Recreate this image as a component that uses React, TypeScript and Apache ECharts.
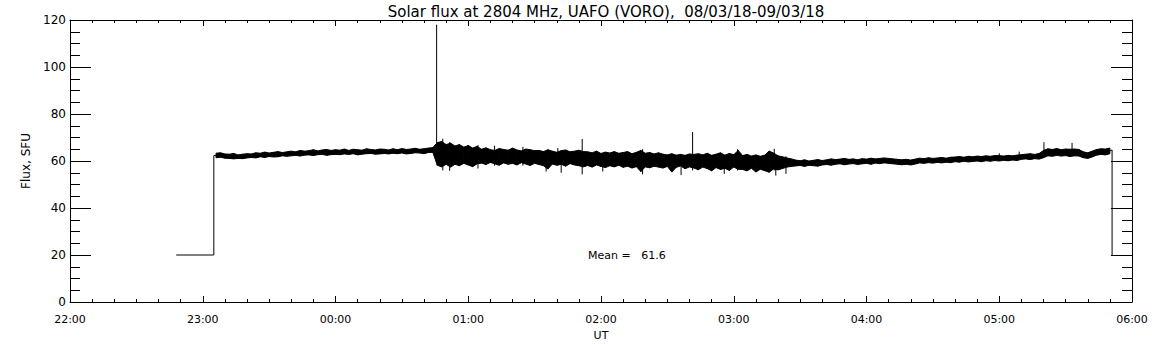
import React, { useEffect, useRef } from "react";
import * as echarts from "echarts";

// Time axis in minutes after 22:00 UT
const AXIS_START_HOUR = 22;
const X_MIN = 0;
const X_MAX = 480;
const Y_MIN = 0;
const Y_MAX = 120;

const TITLE = "Solar flux at 2804 MHz, UAFO (VORO),  08/03/18-09/03/18";
const Y_NAME = "Flux, SFU";
const X_NAME = "UT";
const MEAN_TEXT = "Mean =   61.6";

// Lead-in: calibration level, then step up
const leadTimes = [48, 65, 65, 66];
const leadValues = [20, 20, 62.3, 62.3];

// Dense signal envelope, 2-minute bins (upper / lower extent per bin)
const seg1Start = 66;
const seg1Hi = [
  63.3, 63.5, 63.0, 62.9, 63.2, 62.6, 62.9, 63.1,
  63.0, 63.5, 63.3, 63.8, 63.4, 63.7, 64.0, 63.6, 63.9, 64.2,
  63.9, 64.5, 64.2, 64.4, 64.8, 64.3, 64.7, 64.9, 64.5, 64.8,
  64.6, 65.1, 64.5, 65.0, 64.8, 64.6, 65.2, 64.9, 64.7, 65.1,
  65.0, 64.7, 65.2, 64.8, 65.3, 64.9, 65.1, 65.4, 65.0, 65.2, 65.5, 65.7,
];
const seg1Lo = [
  61.4, 61.6, 61.2, 61.1, 60.9, 61.1, 61.0, 61.3,
  61.5, 61.3, 61.8, 61.5, 61.9, 61.7, 61.8, 62.2, 62.0, 62.2,
  62.4, 62.1, 62.5, 62.6, 62.3, 62.7, 62.8, 62.4, 62.7, 62.8,
  62.7, 63.0, 62.8, 63.1, 62.6, 62.9, 63.1, 63.2, 62.9, 63.0,
  63.2, 63.0, 63.3, 63.1, 63.4, 63.0, 63.2, 63.5, 63.4, 63.1, 63.6, 63.7,
];

const seg2Start = 166;
const seg2Hi = [
  67.8, 68.3, 67.0, 67.6,
  66.4, 67.0, 65.9, 66.6, 65.5, 66.2,
  65.0, 65.6, 64.8, 64.5, 65.3, 64.9, 64.6, 65.5, 64.7, 64.3, 65.1, 64.8, 64.4,
  64.5, 64.0, 64.8, 64.2, 63.7, 64.4, 64.7, 63.9, 64.2, 64.6,
  64.0,
  63.9, 63.5, 64.2, 63.2, 63.8, 63.4, 64.0, 63.3, 63.6, 64.0, 63.1, 63.7, 64.5, 63.3, 63.6, 63.0, 63.5,
  62.9, 62.6, 63.1, 62.5, 62.8, 62.4, 63.0,
  62.8,
  63.1, 62.6, 63.3, 62.4, 62.9, 63.5, 62.5, 63.2, 62.7, 64.5,
  62.3, 62.8, 62.1, 62.6, 62.0, 62.5, 64.2, 63.4, 62.2, 61.8, 61.3, 60.9,
];
const seg2Lo = [
  58.2, 57.5, 58.6, 57.4,
  58.6, 58.0, 59.0, 58.3, 57.6, 58.8,
  59.1, 58.5, 59.4, 58.8, 58.2, 59.2, 58.6, 59.0, 58.3, 59.3, 58.7, 58.1, 59.0,
  58.5, 58.0, 56.6, 58.7, 58.2, 58.6, 57.8, 58.9, 58.3, 58.0,
  57.5,
  58.1, 57.4, 58.3, 57.7, 57.2, 58.0, 57.5, 58.2, 57.3, 57.8, 57.0, 57.6, 55.5, 57.5, 57.1, 57.8, 57.4,
  57.0, 57.7, 55.3, 57.3, 57.9, 56.7, 57.5,
  57.0,
  56.3, 57.4, 56.8, 55.8, 57.2, 56.4, 56.9, 56.0, 57.4, 56.5,
  56.4, 55.8, 56.9, 55.3, 56.5, 55.9, 55.2, 56.6, 56.2, 56.8, 57.4, 57.7,
];

const seg3Start = 328;
const seg3Hi = [
  60.4, 60.1, 60.5, 60.0, 60.3, 60.6, 60.2,
  60.5, 60.9, 60.6, 60.8, 61.1, 60.7, 60.9, 60.5, 61.0, 60.8, 61.2, 60.9, 61.1,
  61.3, 61.1, 60.9, 60.7,
  60.5, 60.7, 60.4, 60.8,
  61.2, 61.0, 61.4, 61.1, 61.3, 61.5, 61.2, 61.6,
  61.7, 61.9, 61.6, 62.0, 61.8, 62.1, 61.9,
  62.2, 62.0, 62.3, 62.3, 62.1, 62.4, 62.2, 62.5,
  62.7, 62.9, 63.1, 62.8, 63.2,
  64.5,
  65.2, 64.9, 65.3, 64.8, 65.1, 65.0, 65.1, 64.9,
  63.9, 63.5, 64.2,
  64.9, 65.2, 65.1, 65.5,
];
const seg3Lo = [
  57.9, 58.1, 57.7, 58.2, 58.0, 57.8, 58.3,
  58.5, 58.2, 58.6, 58.8, 58.4, 58.7, 58.9, 58.5, 58.8, 59.0, 58.6, 59.1, 58.9,
  59.2, 59.0, 58.8, 58.6,
  58.4, 58.6, 58.3, 58.7,
  59.2, 59.0, 59.3, 59.1, 59.4, 59.2, 59.5, 59.3,
  59.7, 59.5, 59.9, 59.6, 59.8, 60.0, 59.7,
  60.1, 59.9, 60.2, 60.0, 60.3, 60.1, 60.4, 60.2,
  60.7, 60.9, 60.6, 61.0, 60.8,
  61.4,
  62.2, 62.0, 62.4, 62.1, 62.3, 61.9, 62.2, 62.1,
  61.4, 61.1, 61.7,
  62.5, 62.8, 62.6, 63.1,
];

// Isolated spikes: time, lower end, upper end
const spikeTimes = [
  165.7, 168.5, 171.6, 184.4, 191.9, 204.7, 215.2, 220.5, 222.0, 231.5,
  240.8, 258.8, 276.2, 281.4, 295.7, 301.7, 318.3, 319.0, 323.6,
  420.0, 429.0, 440.2, 452.9,
];
const spikeLows = [
  64.5, 56.0, 55.8, 56.8, 58.0, 58.0, 55.5, 58.0, 55.0, 54.3,
  55.5, 54.3, 54.0, 56.0, 54.5, 56.0, 56.0, 53.8, 54.5,
  61.0, 61.5, 62.0, 63.0,
];
const spikeHighs = [
  118.0, 69.5, 68.0, 66.8, 66.5, 66.0, 64.0, 65.5, 62.0, 69.4,
  62.0, 65.0, 62.0, 72.3, 62.0, 65.0, 65.2, 62.0, 62.0,
  63.3, 64.0, 68.0, 67.7,
];

// Tail: drop back to calibration level
const tailTimes = [470, 471, 471];
const tailValues = [64.3, 64.7, 20];

function buildBand(): number[][] {
  const pts: number[][] = [];
  const segs: [number, number[], number[]][] = [
    [seg1Start, seg1Hi, seg1Lo],
    [seg2Start, seg2Hi, seg2Lo],
    [seg3Start, seg3Hi, seg3Lo],
  ];
  for (const [start, hi, low] of segs) {
    for (let i = 0; i < hi.length; i++) {
      pts.push([start + 2 * i, low[i], hi[i]]);
    }
  }
  return pts;
}

function fmtTime(v: number): string {
  const m = (((AXIS_START_HOUR * 60 + Math.round(v)) % 1440) + 1440) % 1440;
  const hh = Math.floor(m / 60);
  const mm = m % 60;
  return String(hh).padStart(2, "0") + ":" + String(mm).padStart(2, "0");
}

const FONT = "DejaVu Sans";

export default function App() {
  const ref = useRef<HTMLDivElement>(null);
  useEffect(() => {
    if (!ref.current) return;
    const chart = echarts.init(ref.current, undefined, { renderer: "svg" });
    const axisLineStyle = { color: "#000", width: 1 };
    const xCommon = {
      type: "value" as const,
      min: X_MIN,
      max: X_MAX,
      interval: 60,
      splitLine: { show: false },
      axisLine: { show: true, onZero: false, lineStyle: axisLineStyle },
      axisTick: { show: true, inside: true, length: 6, lineStyle: axisLineStyle },
      minorTick: { show: true, splitNumber: 6, length: 3, lineStyle: axisLineStyle },
      minorSplitLine: { show: false },
    };
    const yCommon = {
      type: "value" as const,
      min: Y_MIN,
      max: Y_MAX,
      interval: 20,
      splitLine: { show: false },
      axisLine: { show: true, onZero: false, lineStyle: axisLineStyle },
      axisTick: { show: true, inside: true, length: 21, lineStyle: axisLineStyle },
      minorTick: { show: true, splitNumber: 4, length: 10, lineStyle: axisLineStyle },
      minorSplitLine: { show: false },
    };
    const band = buildBand();
    const lineStyle = { color: "#000", width: 1 };
    chart.setOption({
      animation: false,
      backgroundColor: "#fff",
      textStyle: { fontFamily: FONT },
      title: {
        text: TITLE,
        left: 601,
        textAlign: "center",
        top: -1,
        textStyle: { fontFamily: FONT, fontSize: 15, fontWeight: "normal", color: "#000" },
      },
      grid: { left: 70, right: 20, top: 20, bottom: 43, containLabel: false, outerBoundsMode: "none" },
      xAxis: [
        {
          ...xCommon,
          position: "bottom",
          name: X_NAME,
          nameLocation: "middle",
          nameGap: 26,
          nameTextStyle: { fontFamily: FONT, fontSize: 11, color: "#000" },
          axisLabel: {
            show: true,
            margin: 12,
            fontFamily: FONT,
            fontSize: 11,
            color: "#000",
            showMinLabel: true,
            showMaxLabel: true,
            formatter: (v: number) => fmtTime(v),
          },
        },
        {
          ...xCommon,
          position: "top",
          axisLabel: { show: false },
        },
      ],
      yAxis: [
        {
          ...yCommon,
          position: "left",
          name: Y_NAME,
          nameLocation: "middle",
          nameGap: 34,
          nameRotate: 90,
          nameTextStyle: { fontFamily: FONT, fontSize: 12, color: "#000" },
          axisLabel: {
            show: true,
            margin: 4,
            fontFamily: FONT,
            fontSize: 12,
            color: "#000",
            showMinLabel: true,
            showMaxLabel: true,
          },
        },
        {
          ...yCommon,
          position: "right",
          axisLabel: { show: false },
        },
      ],
      graphic: [
        {
          type: "text",
          left: 588,
          top: 250,
          style: { text: MEAN_TEXT, font: `11px "${FONT}"`, fill: "#000" },
        },
      ],
      series: [
        {
          type: "line",
          name: "lead",
          data: leadTimes.map((t, i) => [t, leadValues[i]]),
          showSymbol: false,
          symbol: "none",
          silent: true,
          lineStyle,
        },
        {
          type: "custom",
          name: "band",
          silent: true,
          data: band,
          encode: { x: 0, y: [1, 2] },
          renderItem: (params: any, api: any) => {
            const i = params.dataIndex;
            if (i >= band.length - 1) return null;
            const a = band[i];
            const b = band[i + 1];
            const p1 = api.coord([a[0], a[2]]);
            const p2 = api.coord([b[0], b[2]]);
            const p3 = api.coord([b[0], b[1]]);
            const p4 = api.coord([a[0], a[1]]);
            return {
              type: "polygon",
              shape: { points: [p1, p2, p3, p4] },
              style: { fill: "#000", stroke: "#000", lineWidth: 1 },
            };
          },
        },
        {
          type: "custom",
          name: "spikes",
          silent: true,
          data: spikeTimes.map((t, i) => [t, spikeLows[i], spikeHighs[i]]),
          encode: { x: 0, y: [1, 2] },
          renderItem: (_params: any, api: any) => {
            const p1 = api.coord([api.value(0), api.value(1)]);
            const p2 = api.coord([api.value(0), api.value(2)]);
            return {
              type: "line",
              shape: { x1: p1[0], y1: p1[1], x2: p2[0], y2: p2[1] },
              style: { stroke: "#000", lineWidth: 1 },
            };
          },
        },
        {
          type: "line",
          name: "tail",
          data: tailTimes.map((t, i) => [t, tailValues[i]]),
          showSymbol: false,
          symbol: "none",
          silent: true,
          lineStyle,
        },
      ],
    });
    return () => chart.dispose();
  }, []);
  return (
    <div
      ref={ref}
      style={{ position: "fixed", left: 0, top: 0, width: 1152, height: 345, background: "#fff" }}
    />
  );
}
